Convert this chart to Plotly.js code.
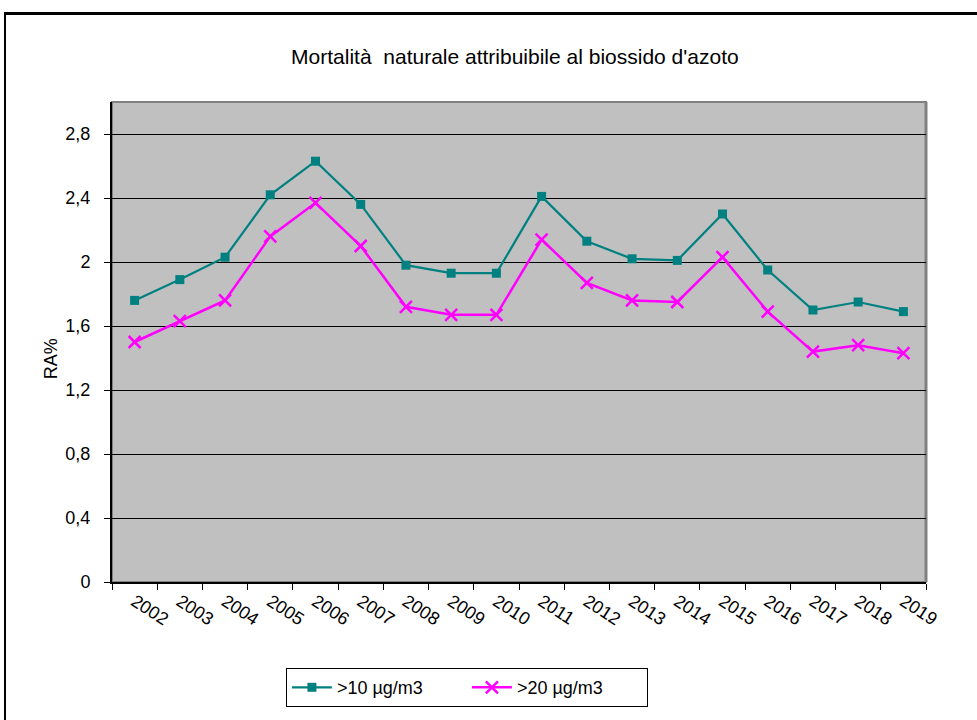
<!DOCTYPE html>
<html>
<head>
<meta charset="utf-8">
<script src="https://cdn.plot.ly/plotly-3.0.1.min.js"></script>
<style>
  html, body { margin: 0; padding: 0; background: #ffffff; overflow: hidden; }
  #frame { position: absolute; left: 4px; top: 12px; width: 2000px; height: 2000px;
           border-left: 2px solid #000; border-top: 3px solid #000; z-index: 0; }
  #chart { position: absolute; left: 0; top: 0; width: 977px; height: 720px; z-index: 1; }
</style>
</head>
<body>
<div id="frame"></div>
<div id="chart"></div>
<script>
const years = ["2002","2003","2004","2005","2006","2007","2008","2009","2010",
               "2011","2012","2013","2014","2015","2016","2017","2018","2019"];
const over10 = [1.76, 1.89, 2.03, 2.42, 2.63, 2.36, 1.98, 1.93, 1.93,
                2.41, 2.13, 2.02, 2.01, 2.30, 1.95, 1.70, 1.75, 1.69];
const over20 = [1.50, 1.63, 1.76, 2.16, 2.37, 2.10, 1.72, 1.67, 1.67,
                2.14, 1.87, 1.76, 1.75, 2.03, 1.69, 1.44, 1.48, 1.43];
const seriesNames = [">10 µg/m3", ">20 µg/m3"];
const yTicks = [0, 0.4, 0.8, 1.2, 1.6, 2, 2.4, 2.8];

const font = "Liberation Sans, Arial, sans-serif";

const traces = [
  {
    x: years, y: over10, name: seriesNames[0], type: "scatter", mode: "lines+markers",
    line: { color: "#008080", width: 2.2 },
    marker: { symbol: "square", size: 9, color: "#008080" }
  },
  {
    x: years, y: over20, name: seriesNames[1], type: "scatter", mode: "lines+markers",
    line: { color: "#ff00ff", width: 2.5 },
    marker: { symbol: "x-thin-open", size: 12, color: "#ff00ff", line: { color: "#ff00ff", width: 2.5 } }
  }
];

const layout = {
  width: 977, height: 720,
  margin: { l: 112, r: 51, t: 102, b: 138, pad: 0 },
  paper_bgcolor: "rgba(0,0,0,0)",
  plot_bgcolor: "#c0c0c0",
  separators: ",.",
  font: { family: font, size: 18, color: "#000" },
  title: {
    text: "Mortalità  naturale attribuibile al biossido d'azoto",
    font: { family: font, size: 21, color: "#000" },
    x: 0.527, xref: "container", xanchor: "center",
    y: 0.921, yref: "container", yanchor: "middle"
  },
  xaxis: {
    type: "category",
    range: [-0.5, 17.5],
    showgrid: false,
    showline: true, linecolor: "#000", linewidth: 2,
    ticks: "outside", tickson: "boundaries", ticklen: 6, tickcolor: "#000", tickwidth: 1,
    tickangle: 33,
    tickfont: { family: font, size: 18, color: "#000" },
    fixedrange: true
  },
  yaxis: {
    range: [0, 3.0],
    tickvals: yTicks,
    showgrid: true, gridcolor: "#000", gridwidth: 1,
    zeroline: false,
    showline: true, linecolor: "#000", linewidth: 2,
    ticks: "outside", ticklen: 6, tickcolor: "#000", tickwidth: 1,
    ticklabelstandoff: 10,
    tickfont: { family: font, size: 18, color: "#000" },
    fixedrange: true
  },
  annotations: [
    { text: "RA%", xref: "paper", yref: "paper", x: -0.075, y: 0.466,
      xanchor: "center", yanchor: "middle", textangle: -90, showarrow: false,
      font: { family: font, size: 18, color: "#000" } }
  ],
  shapes: [
    { type: "rect", xref: "paper", yref: "paper", x0: 0, x1: 1, y0: 0, y1: 1,
      line: { color: "#808080", width: 2 }, layer: "below" },
    { type: "line", xref: "paper", yref: "paper", x0: 1, x1: 1, y0: 0, y1: 1,
      line: { color: "#808080", width: 3 }, layer: "below" }
  ],
  showlegend: true,
  legend: {
    orientation: "h",
    x: 0.436, xanchor: "center", xref: "paper",
    y: -0.22, yanchor: "middle", yref: "paper",
    bgcolor: "#ffffff", bordercolor: "#000", borderwidth: 1,
    font: { family: font, size: 18, color: "#000" },
    entrywidth: 125, itemwidth: 40
  }
};

Plotly.newPlot("chart", traces, layout, { displayModeBar: false, staticPlot: true });
</script>
</body>
</html>
